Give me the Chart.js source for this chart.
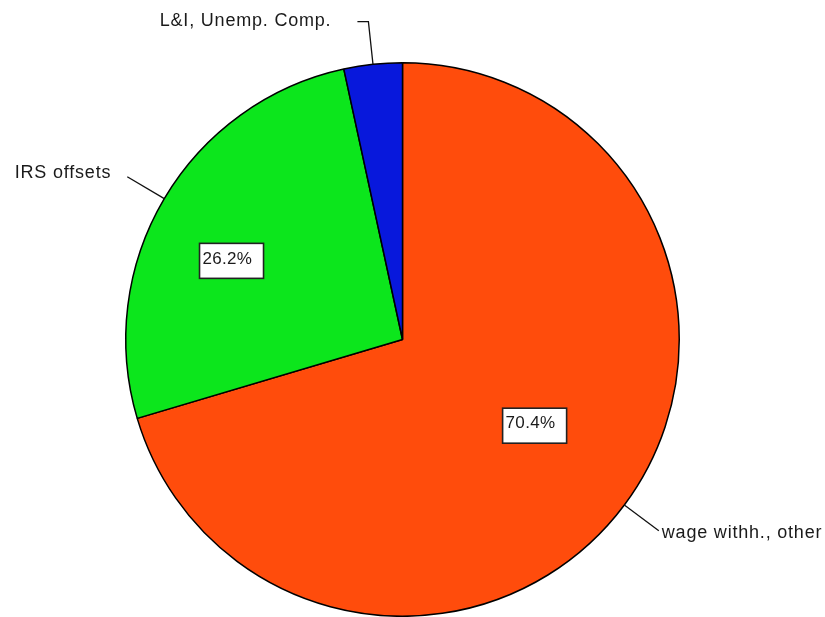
<!DOCTYPE html>
<html>
<head>
<meta charset="utf-8">
<title>Collections by source</title>
<script src="https://cdn.jsdelivr.net/npm/chart.js@4.4.1/dist/chart.umd.min.js"></script>
<style>
  html, body { margin: 0; padding: 0; background: #fff; }
  #wrap { width: 825px; height: 617px; position: relative; }
</style>
</head>
<body>
<div id="wrap"><canvas id="pieChart"></canvas></div>
<script>
const labels = ["wage withh., other", "IRS offsets", "L&I, Unemp. Comp."];
const shares = [70.4, 26.2, 3.4];
const colors = ["#ff4c0c", "#0ce61c", "#0818dc"];

// label placement per slice: inner box radius fraction / angle nudge (deg),
// outer leader: horizontal tail, gap to text, baseline shift
const boxPos = [{ f: 0.57, da: -3.6 }, { f: 0.68, da: -5.9 }, null];
const leader = [
    { tail: 0, gap: 3, dy: 7 },
    { tail: 0, gap: 16, dy: 1 },
    { tail: 11, gap: 26, dy: 4 }
];

const labelPlugin = {
    id: "pieLabels",
    afterDatasetsDraw(chart) {
        const ctx = chart.ctx;
        const arcs = chart.getDatasetMeta(0).data;
        ctx.save();
        arcs.forEach(function (arc, i) {
            const p = arc.getProps(["x", "y", "startAngle", "endAngle", "outerRadius"], true);
            const mid = (p.startAngle + p.endAngle) / 2;
            const r = p.outerRadius;

            // leader line and outer label
            const x0 = p.x + Math.cos(mid) * r;
            const y0 = p.y + Math.sin(mid) * r;
            const x1 = p.x + Math.cos(mid) * (r + 43);
            const y1 = p.y + Math.sin(mid) * (r + 43);
            const side = Math.cos(mid) >= 0 ? 1 : -1;
            const x2 = x1 + side * leader[i].tail;
            ctx.strokeStyle = "#111";
            ctx.lineWidth = 1.3;
            ctx.beginPath();
            ctx.moveTo(x0, y0);
            ctx.lineTo(x1, y1);
            ctx.lineTo(x2, y1);
            ctx.stroke();

            ctx.font = "18px 'Liberation Sans', Arial, sans-serif";
            ctx.letterSpacing = "0.8px";
            ctx.fillStyle = "#1a1a1a";
            ctx.textBaseline = "alphabetic";
            ctx.textAlign = side > 0 ? "left" : "right";
            ctx.fillText(labels[i], x2 + side * leader[i].gap, y1 + leader[i].dy);

            // percentage box inside the slice
            const bp = boxPos[i];
            if (!bp) return;
            const a = mid + bp.da * Math.PI / 180;
            const cx = p.x + Math.cos(a) * r * bp.f;
            const cy = p.y + Math.sin(a) * r * bp.f;
            const txt = shares[i].toFixed(1) + "%";
            ctx.font = "17px 'Liberation Sans', Arial, sans-serif";
            ctx.letterSpacing = "0.3px";
            const w = 64, h = 35;
            ctx.fillStyle = "#fff";
            ctx.fillRect(cx - w / 2, cy - h / 2, w, h);
            ctx.strokeStyle = "#222";
            ctx.lineWidth = 1.6;
            ctx.strokeRect(cx - w / 2, cy - h / 2, w, h);
            ctx.fillStyle = "#1a1a1a";
            ctx.textAlign = "left";
            ctx.textBaseline = "middle";
            ctx.fillText(txt, cx - w / 2 + 3, cy - 2);
        });
        ctx.restore();
    }
};

new Chart(document.getElementById("pieChart"), {
    type: "pie",
    data: {
        labels: labels,
        datasets: [{
            data: shares,
            backgroundColor: colors,
            borderColor: "#000",
            borderWidth: 1.5
        }]
    },
    options: {
        responsive: true,
        maintainAspectRatio: false,
        animation: false,
        events: [],
        layout: { padding: { top: 62, bottom: 0, left: 125, right: 145 } },
        plugins: {
            legend: { display: false },
            tooltip: { enabled: false }
        }
    },
    plugins: [labelPlugin]
});
</script>
</body>
</html>
